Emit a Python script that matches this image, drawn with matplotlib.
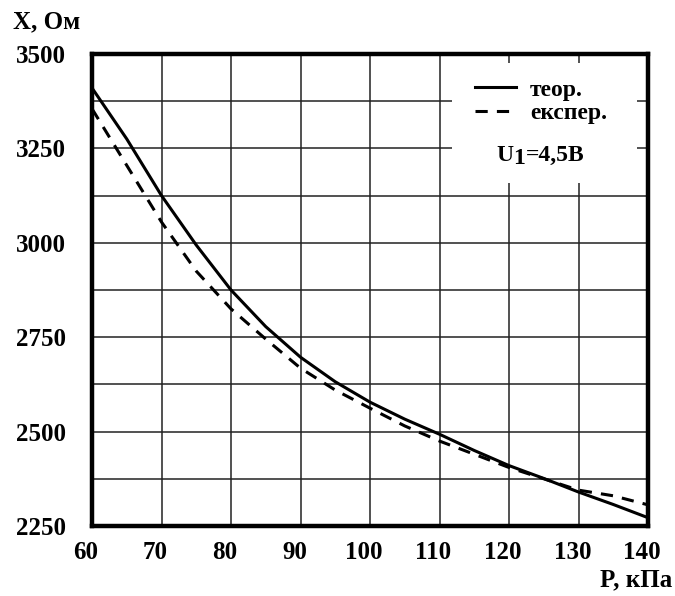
import matplotlib
matplotlib.use("Agg")
import matplotlib.pyplot as plt
import matplotlib.transforms as mtransforms
from matplotlib.patches import Rectangle
import numpy as np

# тиск, кПа
p_kpa = [60, 65, 70, 75, 80, 85, 90, 95, 100, 105, 110, 115, 120, 125, 130, 135, 140]
# опір X, Ом: теоретична та експериментальна криві
x_teor = [3410, 3275, 3125, 2994, 2875, 2778, 2697, 2632, 2578, 2533, 2493, 2450,
          2410, 2376, 2340, 2307, 2272]
x_eksper = [3355, 3205, 3055, 2925, 2825, 2745, 2668, 2610, 2562, 2515, 2475, 2440,
            2405, 2375, 2345, 2330, 2306]

x_ticks = [60, 70, 80, 90, 100, 110, 120, 130, 140]
y_ticks = [2250, 2500, 2750, 3000, 3250, 3500]
y_grid = np.arange(2250, 3501, 125)

plt.rcParams['font.family'] = ['Liberation Serif', 'DejaVu Serif']
plt.rcParams['font.weight'] = 'bold'

fig = plt.figure(figsize=(6.75, 5.96), dpi=100)
ax = fig.add_axes([92 / 675, 1 - 526 / 596, 556 / 675, 472 / 596])

ax.plot(p_kpa, x_teor, color='black', lw=2.2, label='теор.', zorder=3)
ax.plot(p_kpa, x_eksper, color='black', lw=2.2, dashes=(4, 3), label='експер.', zorder=3)

ax.set_xlim(60, 140)
ax.set_ylim(2250, 3500)
ax.set_xticks(x_ticks)
ax.set_yticks(y_ticks)
ax.set_yticks(y_grid, minor=True)
ax.tick_params(which='both', length=0, labelsize=18)
ax.tick_params(axis='x', pad=11)
ax.tick_params(axis='y', pad=19)
ax.grid(True, which='both', color='#222222', lw=1.1)
ax.set_axisbelow(True)
for s in ax.spines.values():
    s.set_linewidth(3.2)

# зсув підписів осі X трохи ліворуч
shift = mtransforms.ScaledTranslation(-6 / 100, 0, fig.dpi_scale_trans)
for lbl in ax.get_xticklabels():
    lbl.set_transform(lbl.get_transform() + shift)

# біле поле під легендою
ax.add_patch(Rectangle((0.647, 0.727), 0.333, 0.254, transform=ax.transAxes,
                       facecolor='white', edgecolor='none', zorder=2))
leg = ax.legend(loc='upper left', bbox_to_anchor=(0.688, 0.947), frameon=False,
                fontsize=17, handlelength=1.75, handletextpad=0.6,
                labelspacing=0.08, borderpad=0, borderaxespad=0)
leg.set_zorder(4)

ax.text(0.728, 0.773, 'U', transform=ax.transAxes, fontsize=17, ha='left',
        va='baseline', zorder=5)
ax.text(0.758, 0.767, '1', transform=ax.transAxes, fontsize=17, ha='left',
        va='baseline', zorder=5)
ax.text(0.781, 0.773, '=4,5В', transform=ax.transAxes, fontsize=17, ha='left',
        va='baseline', zorder=5)

fig.text(13 / 675, 1 - 22 / 596, 'X, Ом', fontsize=18, ha='left', va='center')
fig.text(672 / 675, 1 - 580 / 596, 'P, кПа', fontsize=18, ha='right', va='center')

fig.savefig('out.png', dpi=100)
